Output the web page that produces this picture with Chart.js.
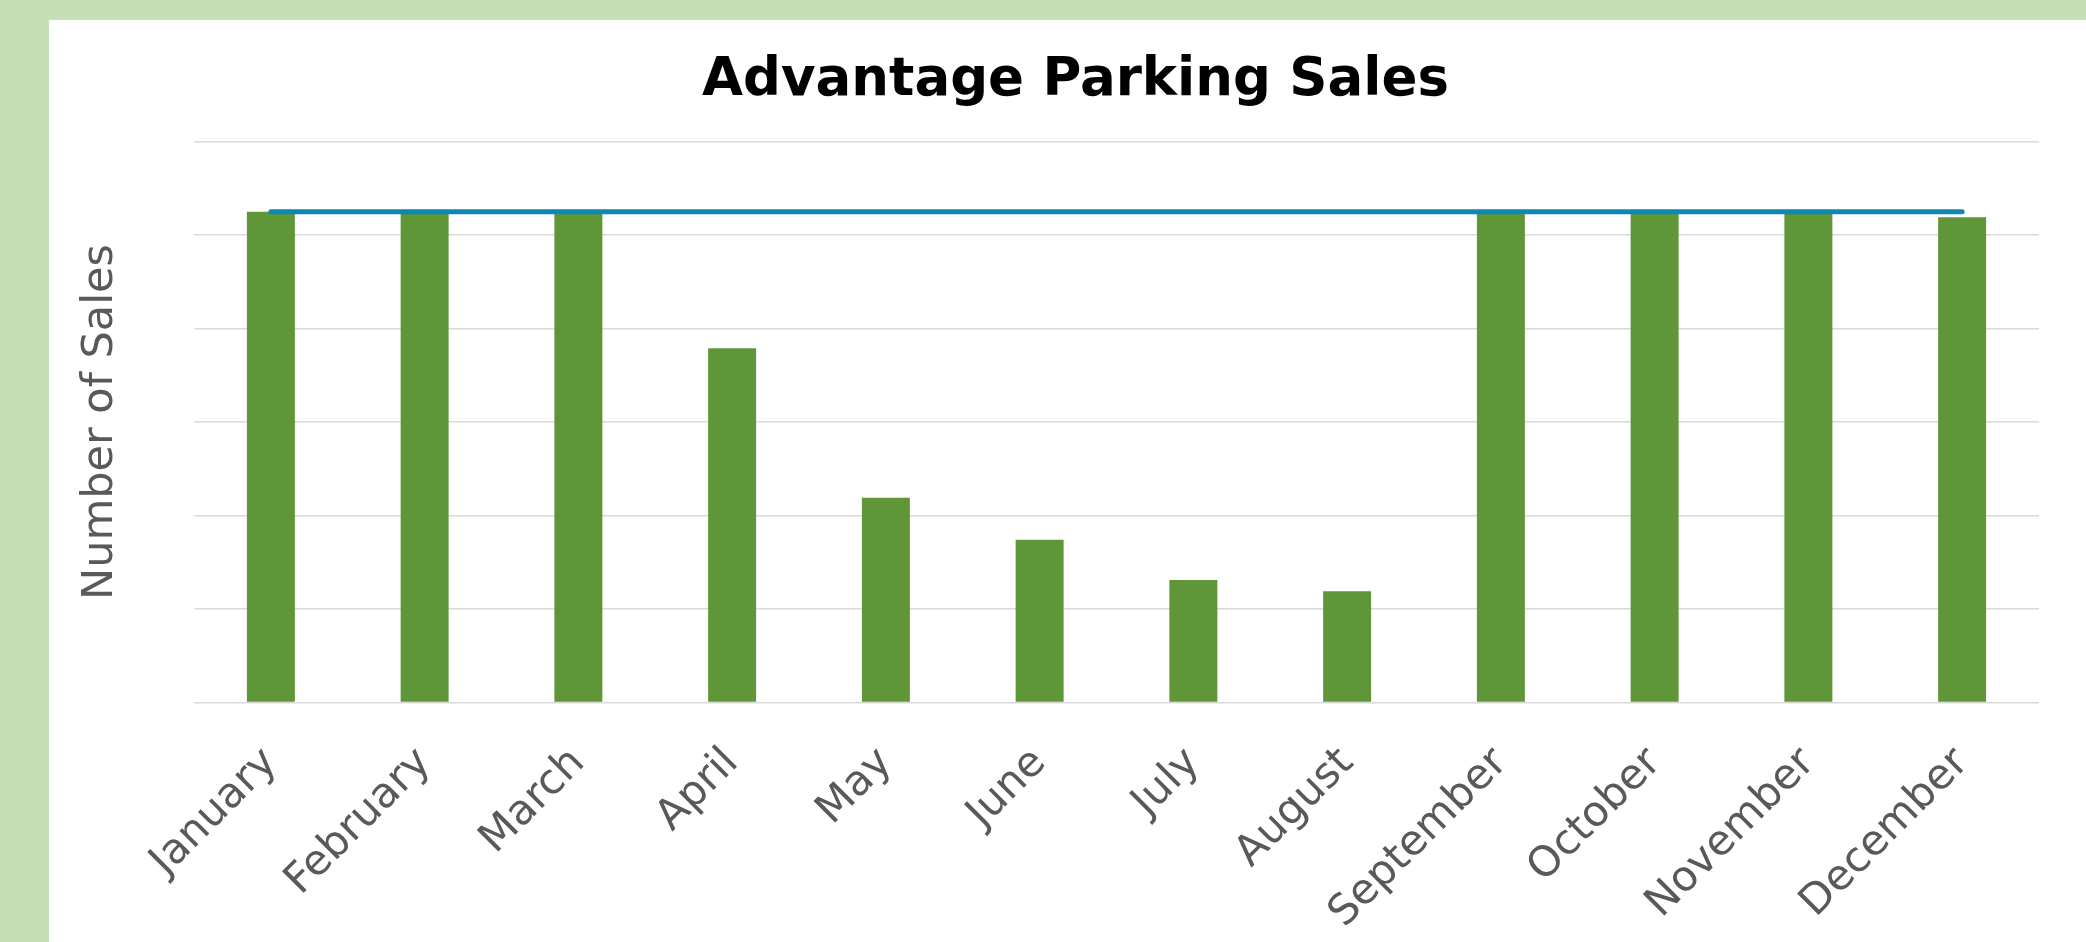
<!DOCTYPE html>
<html>
<head>
<meta charset="utf-8">
<title>Advantage Parking Sales</title>
<script src="https://cdn.jsdelivr.net/npm/chart.js@4.4.1/dist/chart.umd.min.js"></script>
<style>
    html, body { margin: 0; padding: 0; }
    body { width: 2086px; height: 942px; background: #C5E0B4; overflow: hidden; position: relative; }
    #box { position: absolute; left: 49px; top: 20px; width: 2037px; height: 922px; background: #FFFFFF; }
</style>
</head>
<body>
<div id="box"><canvas id="chartSales" width="2037" height="922"></canvas></div>
<script>
let months = ["January", "February", "March", "April", "May", "June", "July", "August", "September", "October", "November", "December"];
let sales = [52.5, 52.5, 52.5, 37.9, 21.9, 17.4, 13.1, 11.9, 52.5, 52.5, 52.5, 51.9];
let maxLine = [52.5, 52.5, 52.5, 52.5, 52.5, 52.5, 52.5, 52.5, 52.5, 52.5, 52.5, 52.5];
let yTicks = [0, 10, 20, 30, 40, 50, 60];

let fontFamily = "'DejaVu Sans', Verdana, sans-serif";

let ctxSales = document.getElementById("chartSales").getContext("2d");
new Chart(ctxSales, {
    data: {
        labels: months,
        datasets: [{
            type: 'line',
            label: 'Max',
            data: maxLine,
            borderColor: "#0E87B5",
            borderWidth: 5,
            borderCapStyle: 'round',
            pointRadius: 0,
            fill: false,
            order: 0
        }, {
            type: 'bar',
            label: 'Sales',
            data: sales,
            backgroundColor: "#5E9638",
            barPercentage: 0.312,
            categoryPercentage: 1,
            order: 1
        }]
    },
    options: {
        responsive: false,
        animation: false,
        // left/right padding keeps the title centred where the original has it
        layout: { padding: { left: 16, right: 0, top: 0, bottom: 0 } },
        plugins: {
            legend: { display: false },
            tooltip: { enabled: false },
            title: {
                display: true,
                text: "Advantage Parking Sales",
                color: "#000000",
                font: { family: fontFamily, size: 53, weight: 'bold' },
                padding: { top: 29, bottom: 29 }
            }
        },
        scales: {
            x: {
                grid: { display: false, drawTicks: false },
                border: { display: false },
                ticks: {
                    autoSkip: false,
                    minRotation: 45,
                    maxRotation: 45,
                    padding: 36,
                    color: "#595959",
                    font: { family: fontFamily, size: 42 }
                },
                afterFit: function (scale) { scale.height = 239.5; }
            },
            y: {
                min: yTicks[0],
                max: yTicks[yTicks.length - 1],
                afterBuildTicks: function (scale) {
                    scale.ticks = yTicks.map(function (v) { return { value: v }; });
                },
                grid: { color: "#D9D9D9", lineWidth: 1.5, drawTicks: false },
                border: { display: false },
                ticks: { display: false },
                title: {
                    display: true,
                    text: "Number of Sales",
                    color: "#595959",
                    font: { family: fontFamily, size: 43 },
                    padding: { top: 10, bottom: 0 }
                },
                afterFit: function (scale) { scale.width = 129; }
            },
            yRight: {
                position: 'right',
                min: yTicks[0],
                max: yTicks[yTicks.length - 1],
                grid: { display: false, drawTicks: false },
                border: { display: false },
                ticks: { display: false },
                afterFit: function (scale) { scale.width = 47; }
            }
        }
    }
});
</script>
</body>
</html>
